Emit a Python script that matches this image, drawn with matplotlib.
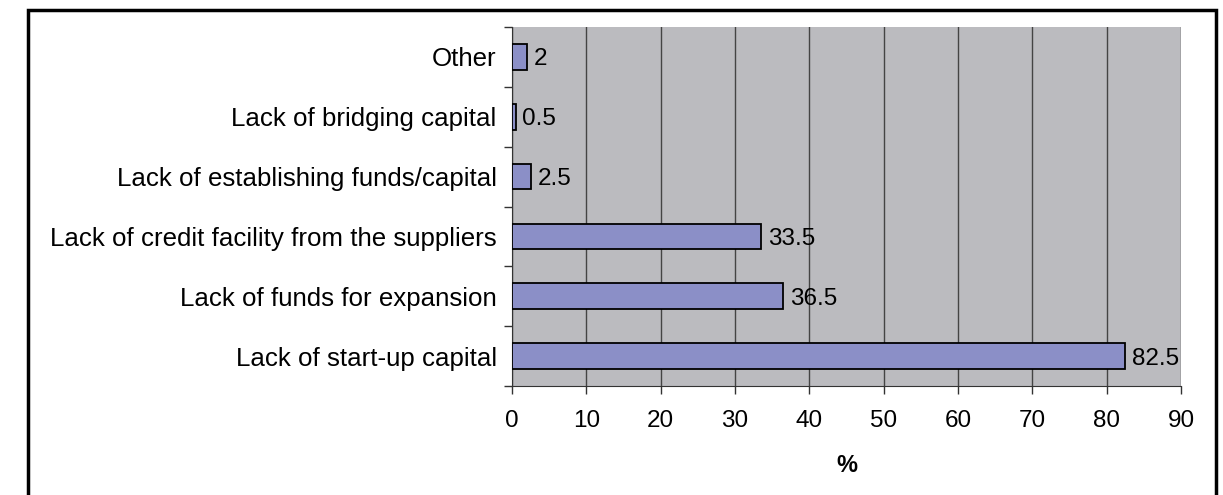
import matplotlib
matplotlib.use("Agg")
import matplotlib.pyplot as plt
import matplotlib.ticker as ticker
from matplotlib.patches import Rectangle

categories = [
    "Lack of start-up capital",
    "Lack of funds for expansion",
    "Lack of credit facility from the suppliers",
    "Lack of establishing funds/capital",
    "Lack of bridging capital",
    "Other",
]
values = [82.5, 36.5, 33.5, 2.5, 0.5, 2]
value_labels = ["82.5", "36.5", "33.5", "2.5", "0.5", "2"]

plt.rcParams['font.family'] = ['Liberation Sans', 'DejaVu Sans']

W, H = 1223, 495
fig = plt.figure(figsize=(W / 100, H / 100), dpi=100)
ax = fig.add_axes([512 / W, 1 - 386 / H, (1181 - 512) / W, (386 - 27) / H])
ax.set_facecolor('#BBBBBF')

pos = list(range(len(categories)))
ax.barh(pos, values, height=0.43, color='#8B8FC7', edgecolor='black',
        linewidth=1.3, zorder=3)
for p, v, lab in zip(pos, values, value_labels):
    ax.text(v + 0.9, p, lab, va='center_baseline', ha='left', fontsize=17.5, zorder=4)

ax.set_xlim(0, 90)
ax.set_ylim(-0.5, len(categories) - 0.5)
ax.xaxis.set_major_locator(ticker.MultipleLocator(10))
ax.grid(axis='x', color='#444444', lw=1.0, zorder=1)

# category labels sit between the boundary ticks
ax.set_yticks(pos)
ax.set_yticklabels(categories, fontsize=18.6)
ax.yaxis.set_minor_locator(ticker.FixedLocator([p + 0.5 for p in range(-1, len(categories))]))
ax.tick_params(axis='y', which='major', length=0, pad=11)
ax.tick_params(axis='y', which='minor', length=6, width=1, color='#333333')
ax.tick_params(axis='x', length=6, width=1, color='#333333', labelsize=17.5, pad=11)

for side in ['top', 'right']:
    ax.spines[side].set_visible(False)
ax.spines['left'].set_color('#333333')
ax.spines['bottom'].set_color('#333333')

ax.set_xlabel('%', fontsize=17, fontweight='bold', labelpad=16)

# outer frame, open at the bottom
fig.patches.append(Rectangle((28 / W, -0.05), (1216 - 28) / W, 1.05 - 10 / H,
                             transform=fig.transFigure, fill=False,
                             edgecolor='black', lw=2.5, clip_on=False))

fig.savefig('out.png', dpi=100)
